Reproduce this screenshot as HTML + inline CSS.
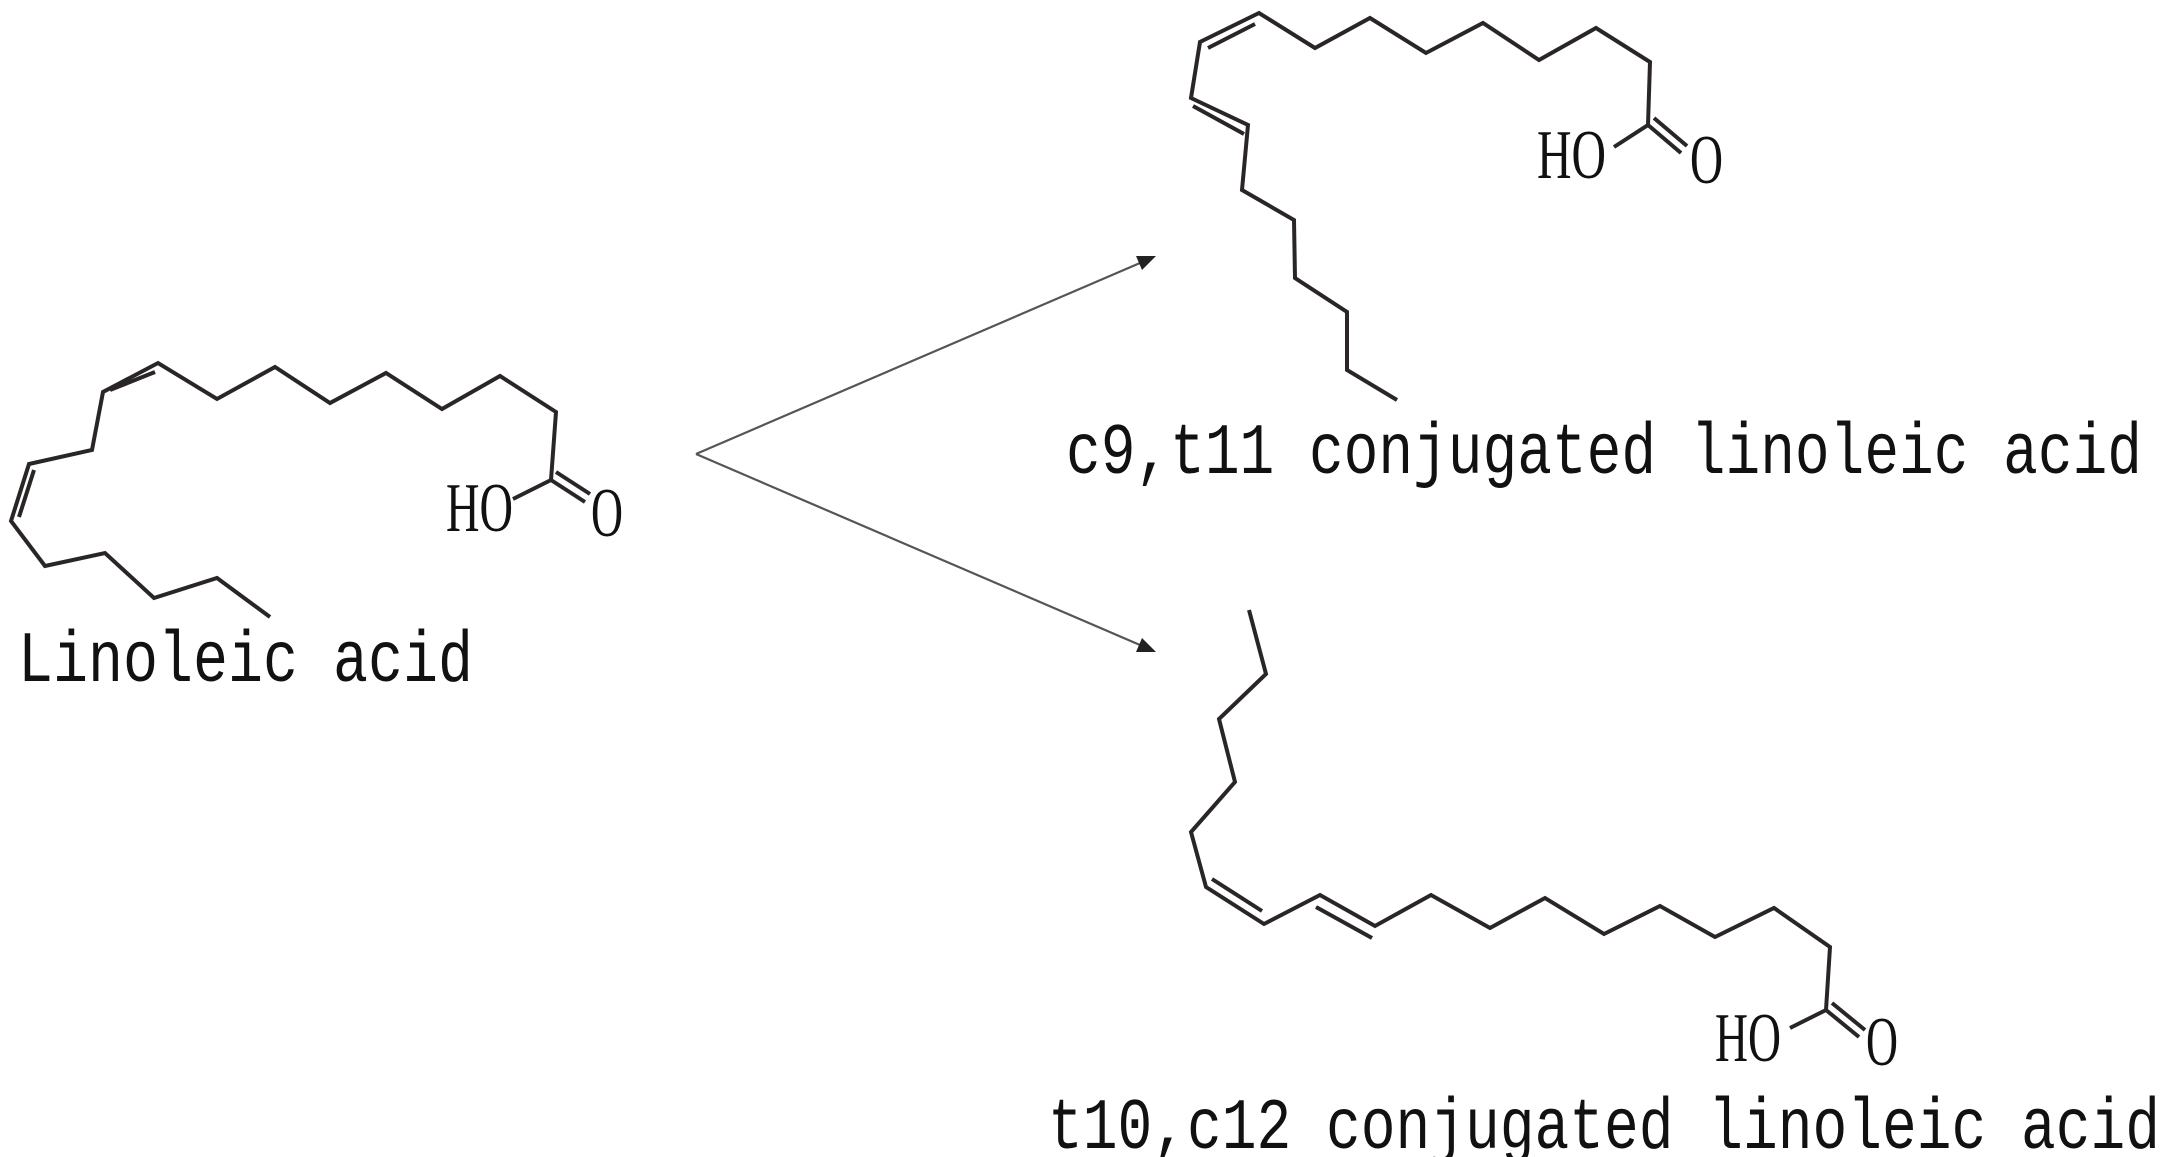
<!DOCTYPE html>
<html><head><meta charset="utf-8"><style>html,body{margin:0;padding:0;background:#fff;}svg{display:block}</style></head>
<body>
<svg width="2170" height="1157" viewBox="0 0 2170 1157" xmlns="http://www.w3.org/2000/svg">
<g fill="none" stroke="#2a2626" stroke-width="4" stroke-linejoin="miter" stroke-linecap="butt">
<!-- Linoleic acid -->
<polyline points="270,617 217,578 154,598 105,553 45,566 11,521 29,464 92,450 103,392 158,363 217,399 275,367 330,403 386,373 442,409 500,376 556,412 551,480 513,499"/>
<line x1="19" y1="517" x2="34" y2="470"/>
<line x1="110" y1="390" x2="155" y2="372"/>
<line x1="551" y1="480" x2="585" y2="502"/>
<line x1="556" y1="472" x2="590" y2="494"/>
<!-- c9,t11 -->
<polyline points="1397,400 1347,370 1347,312 1295,278 1294,220 1242,190 1248,125 1191,98 1200,42 1259,13 1315,48 1370,18 1426,53 1483,23 1539,60 1596,28 1650,62 1648,125 1614,147"/>
<line x1="1208" y1="48" x2="1255" y2="24"/>
<line x1="1193" y1="106" x2="1244" y2="134"/>
<line x1="1648" y1="125" x2="1681" y2="153"/>
<line x1="1654" y1="118" x2="1687" y2="146"/>
<!-- t10,c12 -->
<polyline points="1249,610 1266,674 1219,719 1235,782 1191,832 1206,887 1264,924 1320,895 1375,926 1431,895 1490,928 1545,898 1604,934 1660,906 1715,937 1774,908 1830,947 1826,1010 1790,1028"/>
<line x1="1212" y1="879" x2="1262" y2="911"/>
<line x1="1316" y1="907" x2="1372" y2="938"/>
<line x1="1826" y1="1010" x2="1859" y2="1037"/>
<line x1="1832" y1="1003" x2="1865" y2="1030"/>
</g>
<!-- arrows -->
<g stroke="#555" stroke-width="2.2">
<line x1="696" y1="454" x2="1140" y2="263"/>
<line x1="696" y1="454" x2="1140" y2="645"/>
</g>
<polygon points="1156,256 1136,256 1142,270" fill="#222"/>
<polygon points="1156,652 1142,638 1136,652" fill="#222"/>
<!-- labels -->
<g font-family="'Liberation Serif', serif" fill="#111" font-size="70">
<text x="446" y="531" textLength="67" lengthAdjust="spacingAndGlyphs">HO</text>
<text x="591" y="536" textLength="32" lengthAdjust="spacingAndGlyphs">O</text>
<text x="1537" y="178" textLength="69" lengthAdjust="spacingAndGlyphs">HO</text>
<text x="1690" y="183" textLength="33" lengthAdjust="spacingAndGlyphs">O</text>
<text x="1715" y="1061" textLength="66" lengthAdjust="spacingAndGlyphs">HO</text>
<text x="1866" y="1065" textLength="32" lengthAdjust="spacingAndGlyphs">O</text>
</g>
<g font-family="'Liberation Mono', monospace" fill="#111" font-size="72">
<text x="18" y="681" textLength="455" lengthAdjust="spacingAndGlyphs">Linoleic acid</text>
<text x="1066" y="473" textLength="1076" lengthAdjust="spacingAndGlyphs">c9,t11 conjugated linoleic acid</text>
<text x="1048" y="1148" textLength="1112" lengthAdjust="spacingAndGlyphs">t10,c12 conjugated linoleic acid</text>
</g>
</svg>
</body></html>
